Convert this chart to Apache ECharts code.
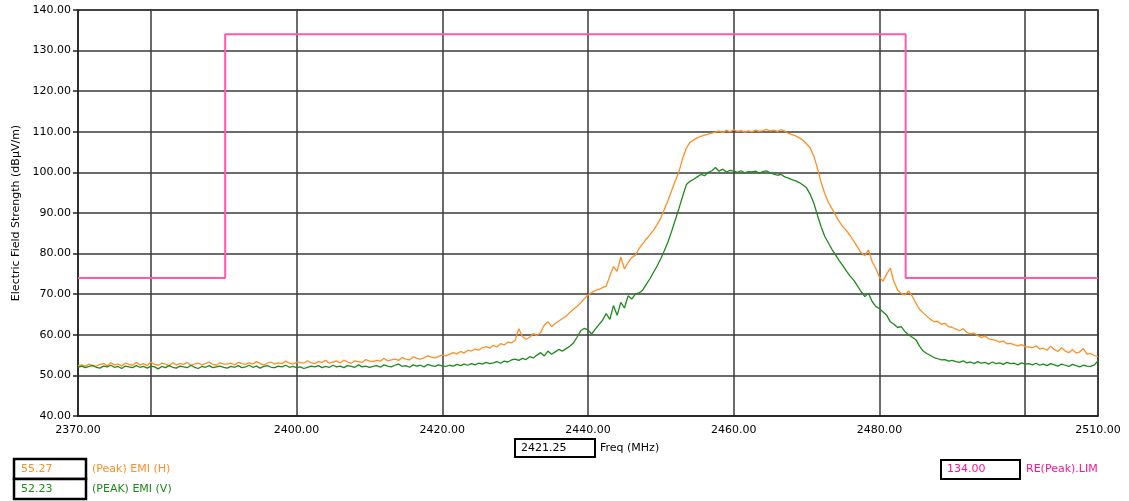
<!DOCTYPE html>
<html>
<head>
<meta charset="utf-8">
<script src="https://cdn.jsdelivr.net/npm/echarts@6/dist/echarts.min.js"></script>
<style>
html,body{margin:0;padding:0;background:#fff;}
#c{width:1129px;height:501px;}
</style>
</head>
<body>
<div id="c"></div>
<script>
// ---- data ----
const freqStart = 2370;
const freqStep = 0.5;
const emiH = [
 52.4,52.6,52.3,52.8,52.5,52.2,52.7,52.9,52.4,53.1,52.6,52.8,52.3,53.0,52.7,52.5,53.2,52.6,52.9,52.4,53.3,
 52.7,52.5,53.0,52.8,52.4,53.1,52.6,52.9,52.7,53.2,52.5,52.8,53.0,52.6,52.9,53.3,52.7,52.5,53.1,52.8,
 52.8,53.0,52.6,53.2,52.9,52.7,53.1,52.8,53.4,52.9,52.6,53.0,53.3,52.8,53.1,52.9,53.5,53.0,52.8,53.2,
 53.2,53.0,53.6,53.1,52.9,53.4,53.2,53.7,53.0,53.3,53.5,53.1,53.8,53.3,53.0,53.6,53.4,53.2,53.9,53.5,
 53.4,53.7,53.5,54.2,53.6,53.8,54.0,53.7,54.4,54.0,53.8,54.6,54.2,54.0,54.3,54.8,54.5,54.3,54.7,55.0,
 54.8,55.2,55.6,55.3,55.9,55.5,56.2,56.0,56.5,56.2,56.8,57.1,56.7,57.4,57.0,57.8,57.5,58.2,58.0,58.6,
 61.5,59.6,58.9,59.4,60.3,59.8,60.6,62.4,63.2,62.0,62.8,63.4,64.0,64.6,65.5,66.3,67.0,67.9,68.9,69.8,
 70.4,70.9,71.2,71.6,72.0,74.5,76.8,75.6,79.2,76.2,77.8,79.0,79.6,81.2,82.4,83.6,84.6,85.8,87.2,88.8,
 91.0,93.2,95.6,98.0,100.3,103.5,106.0,107.4,108.0,108.5,108.9,109.2,109.4,109.7,109.9,110.2,109.8,110.4,110.0,110.5,
 110.1,110.3,109.9,110.2,110.0,110.4,110.1,110.3,110.6,110.2,110.4,110.1,110.5,110.2,109.6,109.3,109.0,108.5,107.9,107.0,
 106.0,104.0,101.0,97.5,94.8,92.6,91.0,89.4,87.8,86.6,85.6,84.4,83.0,81.6,80.2,79.5,80.9,78.0,76.4,74.2,
 73.2,75.0,76.4,73.0,71.0,70.2,69.8,70.8,69.5,67.8,66.3,65.4,64.6,63.8,63.2,63.3,62.6,62.8,62.0,61.8,
 61.4,61.0,61.5,60.6,60.2,60.4,59.8,59.3,59.7,59.0,58.8,58.6,58.2,58.5,57.8,57.9,57.5,57.3,57.6,57.1,
 57.0,56.8,57.3,56.5,56.7,56.2,57.2,56.4,55.9,56.8,56.0,55.6,56.4,55.5,55.8,56.6,55.2,55.4,54.9,54.6
];
const emiV = [
 52.0,52.3,51.9,52.2,52.4,52.0,51.8,52.3,52.1,52.5,52.0,52.2,51.7,52.3,52.1,51.9,52.4,52.0,52.2,51.8,52.3,
 52.1,51.6,52.2,51.9,52.4,52.0,51.8,52.3,52.1,51.9,52.5,52.0,51.7,52.2,52.0,52.4,51.9,52.1,52.3,52.0,
 51.8,52.2,52.0,52.4,51.9,52.1,52.5,52.0,52.3,51.8,52.2,52.4,52.0,51.9,52.3,52.1,52.5,52.0,52.2,51.9,
 52.1,51.7,52.0,52.3,52.1,52.4,51.9,52.2,52.0,52.5,52.1,52.3,51.9,52.4,52.2,52.0,52.6,52.1,52.3,52.0,
 52.2,52.4,52.0,52.6,52.3,52.1,52.5,52.8,52.2,52.4,52.0,52.6,52.3,52.5,52.1,52.7,52.4,52.2,52.6,52.3,
 52.2,52.5,52.3,52.7,52.4,52.8,52.5,52.9,52.6,53.0,52.8,53.2,52.9,53.1,53.4,53.0,53.5,53.3,53.8,54.0,
 53.7,54.2,53.9,54.6,54.3,55.0,55.6,54.8,56.0,55.2,55.8,56.4,56.0,56.6,57.2,58.0,59.4,61.0,61.6,61.2,
 60.2,61.4,62.5,63.6,65.2,63.8,67.2,64.8,68.0,66.6,69.6,68.8,70.0,70.3,71.0,72.4,73.8,75.4,77.0,78.8,
 80.8,83.0,85.6,88.4,91.2,94.2,97.0,97.8,98.3,98.9,99.5,99.2,100.0,100.4,101.2,100.3,100.8,100.1,100.5,100.3,
 100.0,100.4,99.9,100.2,100.1,100.3,99.8,100.2,100.4,99.9,99.6,99.3,99.5,98.9,98.6,98.2,97.9,97.5,96.9,96.2,
 94.6,92.4,89.4,86.6,84.2,82.6,81.0,79.6,78.2,77.0,75.6,74.4,73.4,72.0,70.6,69.4,70.2,68.2,67.0,66.4,
 65.6,64.8,63.2,62.6,61.8,62.0,60.8,60.0,59.4,58.8,57.2,56.0,55.4,54.9,54.4,54.1,53.8,53.9,53.5,53.7,
 53.4,53.2,53.6,53.1,53.3,52.9,53.4,53.0,53.2,52.8,53.3,52.9,53.1,52.7,53.2,52.9,53.0,52.6,53.1,52.8,
 52.9,52.6,53.0,52.5,52.8,52.4,52.9,52.6,52.3,52.8,52.5,52.2,52.7,52.4,52.1,52.5,52.3,52.2,52.6,53.6
];
const limitFreq = [2370, 2390.2, 2390.2, 2483.6, 2483.6, 2510];
const limitLevel = [74, 74, 134, 134, 74, 74];
const xLabelValues = [2370, 2400, 2420, 2440, 2460, 2480, 2510];
const xGridValues = [2380, 2400, 2420, 2440, 2460, 2480, 2500, 2510];
const cursorFreq = '2421.25';
const cursorH = '55.27';
const cursorV = '52.23';
const limitReadout = '134.00';

// ---- build ----
const toPairs = arr => arr.map((v, i) => [freqStart + i * freqStep, v]);
const limitPairs = limitFreq.map((f, i) => [f, limitLevel[i]]);

const FONT = 'DejaVu Sans';
const cOrange = '#ff8f26';
const cGreen = '#1c8a1c';
const cPink = '#ff5aaa';
const cPinkText = '#ff1493';
const cGrid = '#3a3a3a';

const chart = echarts.init(document.getElementById('c'), null, {renderer: 'canvas'});
chart.setOption({
  animation: false,
  backgroundColor: '#ffffff',
  grid: {left: 78, right: 31, top: 10, bottom: 85, show: true, borderColor: '#222', borderWidth: 1.5, backgroundColor: '#fff'},
  xAxis: {
    type: 'value', min: 2370, max: 2510,
    axisLine: {lineStyle: {color: '#222', width: 1.5}},
    axisTick: {show: false, customValues: xGridValues},
    axisLabel: {customValues: xLabelValues, color: '#000', fontFamily: FONT, fontSize: 11, margin: 9,
      formatter: v => Number(v).toFixed(2), showMinLabel: true, showMaxLabel: true},
    splitLine: {show: true, lineStyle: {color: cGrid, width: 1.5}}
  },
  yAxis: {
    type: 'value', min: 40, max: 140, interval: 10,
    name: 'Electric Field Strength (dBµV/m)', nameLocation: 'middle', nameGap: 54,
    nameTextStyle: {color: '#000', fontFamily: FONT, fontSize: 11},
    axisLine: {show: true, lineStyle: {color: '#222', width: 1.5}},
    axisTick: {show: true, length: 5, lineStyle: {color: '#222', width: 1.5}},
    axisLabel: {color: '#000', fontFamily: FONT, fontSize: 11, margin: 7, formatter: v => Number(v).toFixed(2)},
    splitLine: {show: true, lineStyle: {color: cGrid, width: 1.5}}
  },
  series: [
    {name: 'RE(Peak).LIM', type: 'line', data: limitPairs, showSymbol: false, symbol: 'none',
      lineStyle: {color: cPink, width: 2}, z: 3},
    {name: '(Peak) EMI (H)', type: 'line', data: toPairs(emiH), showSymbol: false, symbol: 'none',
      lineStyle: {color: cOrange, width: 1.3}, z: 4},
    {name: '(PEAK) EMI (V)', type: 'line', data: toPairs(emiV), showSymbol: false, symbol: 'none',
      lineStyle: {color: cGreen, width: 1.3}, z: 5}
  ],
  graphic: [
    {type: 'rect', shape: {x: 515, y: 439, width: 80, height: 18}, style: {fill: '#fff', stroke: '#000', lineWidth: 2}},
    {type: 'text', x: 521, y: 448, style: {text: cursorFreq, fill: '#000', font: '11px "DejaVu Sans"', verticalAlign: 'middle'}},
    {type: 'text', x: 600, y: 448, style: {text: 'Freq (MHz)', fill: '#000', font: '11px "DejaVu Sans"', verticalAlign: 'middle'}},

    {type: 'rect', shape: {x: 14, y: 459, width: 72, height: 20}, style: {fill: '#fff', stroke: '#000', lineWidth: 2.5}},
    {type: 'text', x: 21, y: 469, style: {text: cursorH, fill: cOrange, font: '11px "DejaVu Sans"', verticalAlign: 'middle'}},
    {type: 'text', x: 92, y: 469, style: {text: '(Peak) EMI (H)', fill: cOrange, font: '11px "DejaVu Sans"', verticalAlign: 'middle'}},

    {type: 'rect', shape: {x: 14, y: 479, width: 72, height: 20}, style: {fill: '#fff', stroke: '#000', lineWidth: 2.5}},
    {type: 'text', x: 21, y: 489, style: {text: cursorV, fill: cGreen, font: '11px "DejaVu Sans"', verticalAlign: 'middle'}},
    {type: 'text', x: 92, y: 489, style: {text: '(PEAK) EMI (V)', fill: cGreen, font: '11px "DejaVu Sans"', verticalAlign: 'middle'}},

    {type: 'rect', shape: {x: 941, y: 460, width: 79, height: 19}, style: {fill: '#fff', stroke: '#000', lineWidth: 2}},
    {type: 'text', x: 947, y: 469.5, style: {text: limitReadout, fill: cPinkText, font: '11px "DejaVu Sans"', verticalAlign: 'middle'}},
    {type: 'text', x: 1026, y: 469.5, style: {text: 'RE(Peak).LIM', fill: cPinkText, font: '11px "DejaVu Sans"', verticalAlign: 'middle'}}
  ]
});
</script>
</body>
</html>
